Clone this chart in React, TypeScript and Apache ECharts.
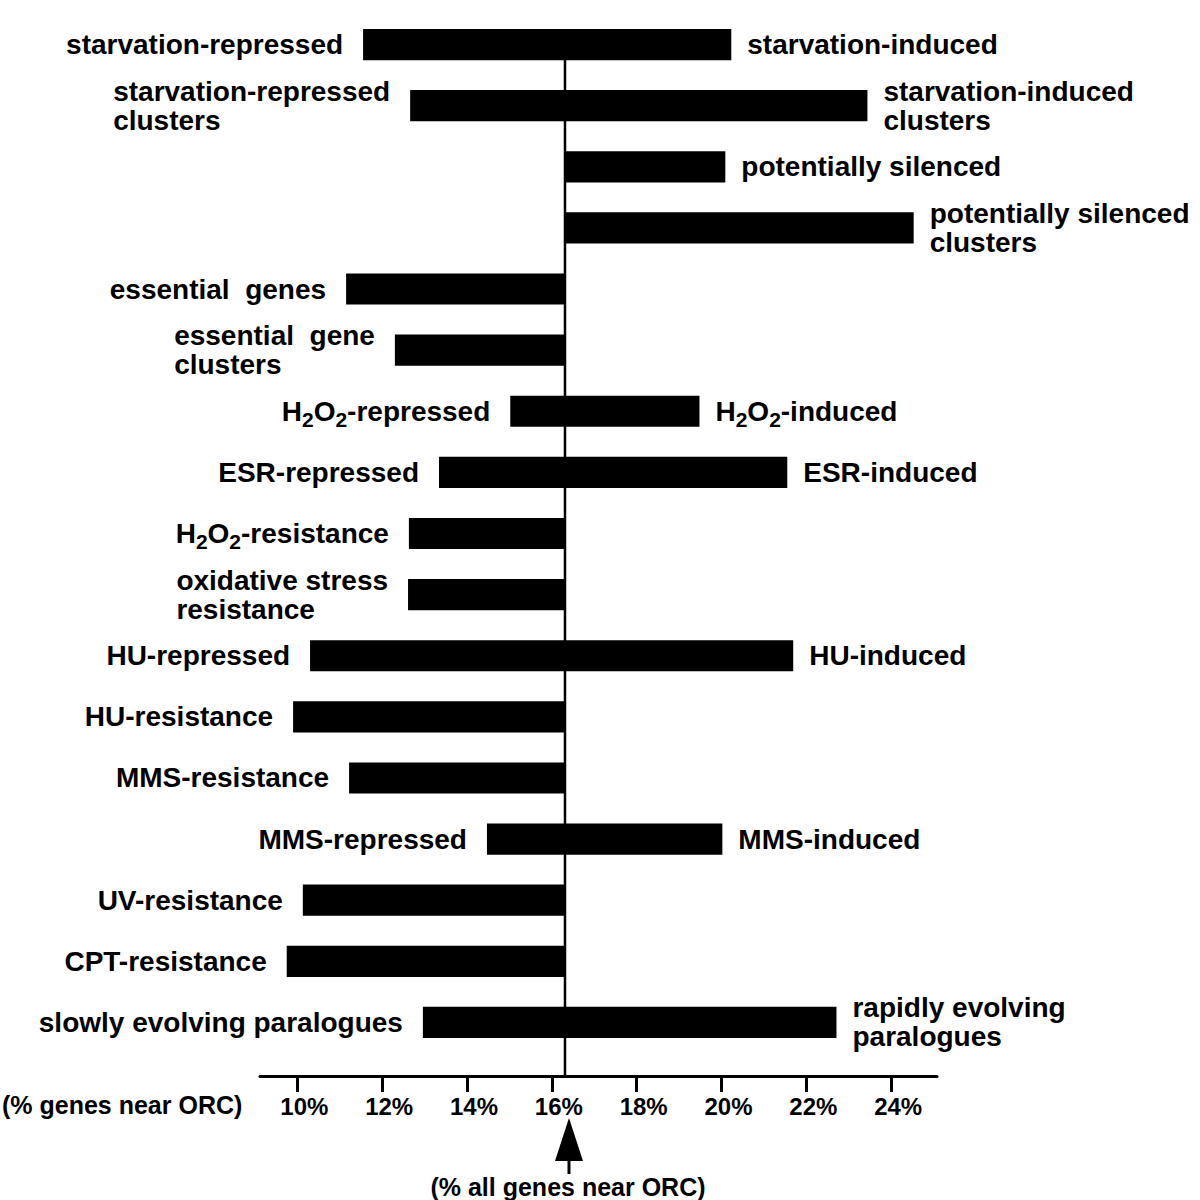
import React, { useEffect, useRef } from "react";
import * as echarts from "echarts";

// Rows, top to bottom
const categories = [
  "starvation",
  "starvation clusters",
  "potentially silenced",
  "potentially silenced clusters",
  "essential genes",
  "essential gene clusters",
  "H2O2",
  "ESR",
  "H2O2-resistance",
  "oxidative stress resistance",
  "HU",
  "HU-resistance",
  "MMS-resistance",
  "MMS",
  "UV-resistance",
  "CPT-resistance",
  "paralogues",
];

// "_2" marks a subscript 2
const leftLabels = [
  "starvation-repressed",
  "starvation-repressed\nclusters",
  "",
  "",
  "essential  genes",
  "essential  gene\nclusters",
  "H_2O_2-repressed",
  "ESR-repressed",
  "H_2O_2-resistance",
  "oxidative stress\nresistance",
  "HU-repressed",
  "HU-resistance",
  "MMS-resistance",
  "MMS-repressed",
  "UV-resistance",
  "CPT-resistance",
  "slowly evolving paralogues",
];

const rightLabels = [
  "starvation-induced",
  "starvation-induced\nclusters",
  "potentially silenced",
  "potentially silenced\nclusters",
  "",
  "",
  "H_2O_2-induced",
  "ESR-induced",
  "",
  "",
  "HU-induced",
  "",
  "",
  "MMS-induced",
  "",
  "",
  "rapidly evolving\nparalogues",
];

// % genes near ORC (left = repressed / resistance group, right = induced group)
const leftValues: (number | null)[] = [
  11.55, 12.66, null, null, 11.15, 12.3, 15.02, 13.34, 12.63, 12.61, 10.3, 9.9, 11.22, 14.47, 10.13, 9.75, 12.96,
];
const rightValues: (number | null)[] = [
  20.23, 23.44, 20.09, 24.53, null, null, 19.48, 21.55, null, null, 21.69, null, null, 20.02, null, null, 22.71,
];

// % of all genes near ORC
const allGenesValue = 16.31;

const tickValues = [10, 12, 14, 16, 18, 20, 22, 24];
const axisName = "(% genes near ORC)";
const arrowLabel = "(% all genes near ORC)";

const FONT = "'Liberation Sans', Arial, Helvetica, sans-serif";

function toRich(s: string): string {
  return s
    .split("\n")
    .map((line) =>
      line
        .split(/(_2)/)
        .filter((t) => t.length > 0)
        .map((t) => (t === "_2" ? "{s|2}" : `{l|${t}}`))
        .join("")
    )
    .join("\n");
}

const richStyles = {
  l: {
    fontSize: 28,
    fontWeight: "bold",
    fontFamily: FONT,
    lineHeight: 29,
    align: "left",
    color: "#000",
  },
  s: {
    fontSize: 21,
    fontWeight: "bold",
    fontFamily: FONT,
    lineHeight: 21,
    padding: [16, 0, 0, 0],
    align: "left",
    color: "#000",
  },
};

export default function App() {
  const ref = useRef<HTMLDivElement>(null);

  useEffect(() => {
    if (!ref.current) return;
    const chart = echarts.init(ref.current, null, { renderer: "svg" });

    const data = categories.map((_, i) => [
      i,
      leftValues[i] ?? allGenesValue,
      rightValues[i] ?? allGenesValue,
    ]);

    const option: any = {
      animation: false,
      backgroundColor: "#fff",
      grid: { left: 260, right: 263, top: 14, bottom: 147, containLabel: false },
      xAxis: {
        type: "value",
        min: 9.12,
        max: 25.08,
        offset: 23,
        splitLine: { show: false },
        axisLine: { show: true, lineStyle: { color: "#000", width: 3 } },
        axisTick: {
          show: true,
          length: 16,
          lineStyle: { color: "#000", width: 3 },
          customValues: tickValues,
        },
        axisLabel: {
          customValues: tickValues,
          formatter: (v: number) => `${Math.round(v)}%`,
          color: "#000",
          fontSize: 24,
          fontWeight: "bold",
          fontFamily: FONT,
          margin: 18,
          padding: [0, 0, 0, 14],
        },
      },
      yAxis: {
        type: "category",
        data: categories,
        inverse: true,
        show: false,
      },
      series: [
        {
          type: "custom",
          encode: { x: [1, 2], y: 0 },
          data,
          clip: false,
          renderItem: (params: any, api: any) => {
            const i = params.dataIndex;
            const lo = api.value(1);
            const hi = api.value(2);
            const p1 = api.coord([lo, i]);
            const p2 = api.coord([hi, i]);
            const band = api.size([0, 1])[1];
            const h = band * 0.51;
            const children: any[] = [
              {
                type: "rect",
                shape: { x: p1[0], y: p1[1] - h / 2, width: p2[0] - p1[0], height: h },
                style: { fill: "#000" },
              },
            ];
            if (leftLabels[i]) {
              children.push({
                type: "text",
                x: p1[0] - 20,
                y: p1[1],
                style: {
                  text: toRich(leftLabels[i]),
                  align: "right",
                  verticalAlign: "middle",
                  rich: richStyles,
                },
              });
            }
            if (rightLabels[i]) {
              children.push({
                type: "text",
                x: p2[0] + 16,
                y: p2[1],
                style: {
                  text: toRich(rightLabels[i]),
                  align: "left",
                  verticalAlign: "middle",
                  rich: richStyles,
                },
              });
            }
            return { type: "group", children };
          },
        },
      ],
    };

    chart.setOption(option);

    const refX = chart.convertToPixel({ xAxisIndex: 0 }, allGenesValue) as number;
    const firstY = chart.convertToPixel({ yAxisIndex: 0 }, 0) as number;
    const axisY = 1200 - 147 + 23;

    chart.setOption({
      graphic: [
        {
          type: "line",
          shape: { x1: refX, y1: firstY, x2: refX, y2: axisY },
          style: { stroke: "#000", lineWidth: 2.5 },
          z: 1,
        },
        {
          type: "text",
          x: 2,
          y: 1105,
          style: {
            text: axisName,
            fill: "#000",
            font: `bold 25px ${FONT}`,
            align: "left",
            verticalAlign: "middle",
          },
        },
        {
          type: "polygon",
          shape: {
            points: [
              [refX + 4, 1118],
              [refX - 10, 1161],
              [refX + 18, 1161],
            ],
          },
          style: { fill: "#000" },
        },
        {
          type: "line",
          shape: { x1: refX + 4, y1: 1160, x2: refX + 4, y2: 1174 },
          style: { stroke: "#000", lineWidth: 3 },
        },
        {
          type: "text",
          x: refX + 3,
          y: 1187,
          style: {
            text: arrowLabel,
            fill: "#000",
            font: `bold 25px ${FONT}`,
            align: "center",
            verticalAlign: "middle",
          },
        },
      ],
    });

    return () => chart.dispose();
  }, []);

  return (
    <div
      ref={ref}
      style={{ position: "absolute", left: 0, top: 0, width: 1200, height: 1200 }}
    />
  );
}
